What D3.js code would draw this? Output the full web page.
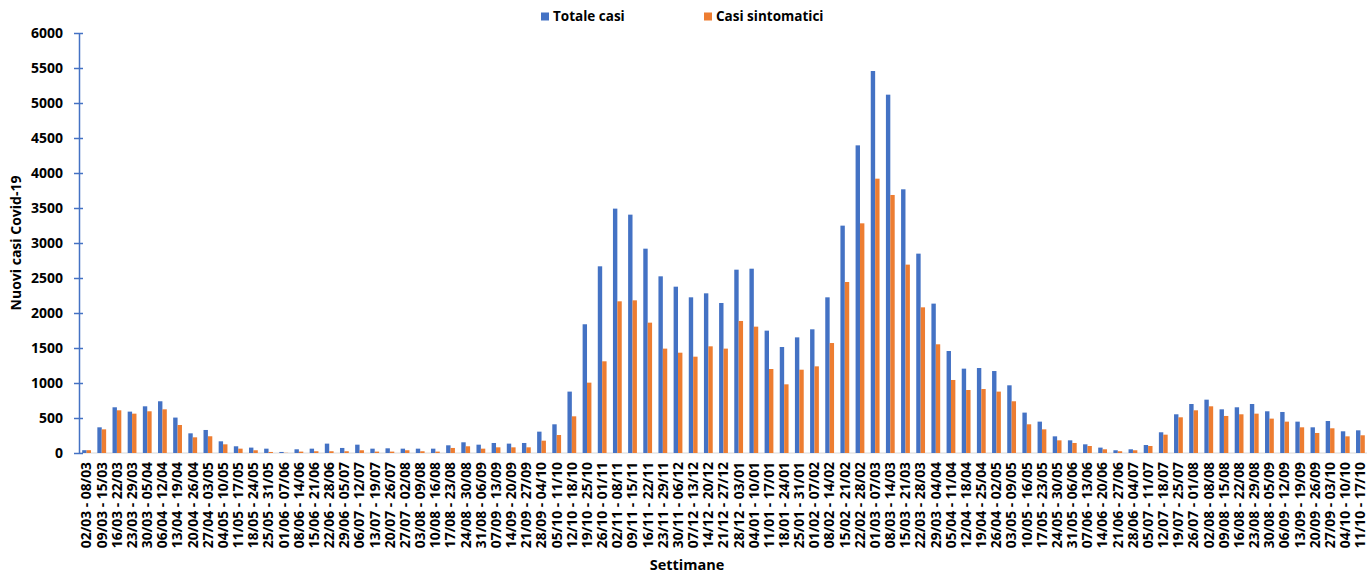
<!DOCTYPE html>
<html>
<head>
<meta charset="utf-8">
<script src="https://cdn.jsdelivr.net/npm/d3@7"></script>
<style>
html,body{margin:0;padding:0;background:#fff;}
svg{display:block;font-family:"Open Sans",sans-serif;}
</style>
</head>
<body>
<svg id="chart" width="1368" height="575"></svg>
<script>
const weeks = ["02/03 - 08/03","09/03 - 15/03","16/03 - 22/03","23/03 - 29/03","30/03 - 05/04","06/04 - 12/04","13/04 - 19/04","20/04 - 26/04","27/04 - 03/05","04/05 - 10/05",
"11/05 - 17/05","18/05 - 24/05","25/05 - 31/05","01/06 - 07/06","08/06 - 14/06","15/06 - 21/06","22/06 - 28/06","29/06 - 05/07","06/07 - 12/07","13/07 - 19/07",
"20/07 - 26/07","27/07 - 02/08","03/08 - 09/08","10/08 - 16/08","17/08 - 23/08","24/08 - 30/08","31/08 - 06/09","07/09 - 13/09","14/09 - 20/09","21/09 - 27/09",
"28/09 - 04/10","05/10 - 11/10","12/10 - 18/10","19/10 - 25/10","26/10 - 01/11","02/11 - 08/11","09/11 - 15/11","16/11 - 22/11","23/11 - 29/11","30/11 - 06/12",
"07/12 - 13/12","14/12 - 20/12","21/12 - 27/12","28/12 - 03/01","04/01 - 10/01","11/01 - 17/01","18/01 - 24/01","25/01 - 31/01","01/02 - 07/02","08/02 - 14/02",
"15/02 - 21/02","22/02 - 28/02","01/03 - 07/03","08/03 - 14/03","15/03 - 21/03","22/03 - 28/03","29/03 - 04/04","05/04 - 11/04","12/04 - 18/04","19/04 - 25/04",
"26/04 - 02/05","03/05 - 09/05","10/05 - 16/05","17/05 - 23/05","24/05 - 30/05","31/05 - 06/06","07/06 - 13/06","14/06 - 20/06","21/06 - 27/06","28/06 - 04/07",
"05/07 - 11/07","12/07 - 18/07","19/07 - 25/07","26/07 - 01/08","02/08 - 08/08","09/08 - 15/08","16/08 - 22/08","23/08 - 29/08","30/08 - 05/09","06/09 - 12/09",
"13/09 - 19/09","20/09 - 26/09","27/09 - 03/10","04/10 - 10/10","11/10 - 17/10"];

const totaleCasi = [40,367,653,591,667,739,506,281,329,167,
96,77,62,15,53,62,134,72,119,62,
67,62,62,62,110,153,119,143,134,143,
305,410,877,1839,2667,3491,3405,2919,2524,2376,
2224,2281,2143,2619,2633,1748,1514,1652,1767,2224,
3248,4395,5457,5119,3767,2848,2134,1457,1205,1214,
1171,967,577,448,238,181,124,77,39,53,
114,296,553,700,762,624,653,700,596,586,
448,367,457,310,324];

const casiSintomatici = [40,338,610,562,596,624,400,224,239,124,
62,39,15,3,20,25,25,25,39,20,
20,39,25,20,72,96,62,81,81,81,
176,257,524,1005,1310,2167,2181,1862,1491,1433,
1376,1524,1491,1886,1805,1200,981,1190,1238,1571,
2443,3281,3919,3686,2691,2081,1553,1043,900,914,
877,739,410,338,181,143,100,53,25,39,
100,262,510,610,667,529,553,562,491,448,
367,286,353,238,253];

const yTicks = [0,500,1000,1500,2000,2500,3000,3500,4000,4500,5000,5500,6000];
const seriesNames = ["Totale casi","Casi sintomatici"];
const seriesColors = ["#4472C4","#ED7D31"];

(function(){
const svg = d3.select("#chart");
const mLeft = 79, mRight = 1368, mTop = 33, mBottom = 453;

const x = d3.scaleBand().domain(weeks).range([mLeft, mRight]).paddingInner(0.42).paddingOuter(0.21);
const xs = d3.scaleBand().domain(seriesNames).range([0, x.bandwidth()]);
const y = d3.scaleLinear().domain([0, 6000]).range([mBottom, mTop]);

const data = weeks.map((w, i) => ({week: w, values: [totaleCasi[i], casiSintomatici[i]]}));

// x axis baseline
svg.append("line").attr("x1", mLeft).attr("x2", mRight - 1).attr("y1", y(0)).attr("y2", y(0))
  .attr("stroke", "#D9D9D9").attr("stroke-width", 1.2);

// bars
const g = svg.append("g");
g.selectAll("g.wk").data(data).join("g").attr("class","wk")
  .attr("transform", d => `translate(${x(d.week)},0)`)
  .selectAll("rect").data(d => d.values.map((v, k) => ({v, k})))
  .join("rect")
  .attr("x", d => xs(seriesNames[d.k]))
  .attr("width", xs.bandwidth())
  .attr("y", d => y(d.v))
  .attr("height", d => y(0) - y(d.v))
  .attr("fill", d => seriesColors[d.k]);

// y axis
const yAxis = d3.axisLeft(y).tickValues(yTicks).tickFormat(d3.format("d")).tickSize(0).tickPadding(16);
const ya = svg.append("g").attr("transform", `translate(${mLeft},0)`).call(yAxis);
ya.select(".domain").attr("stroke", "#4472C4").attr("stroke-width", 1.5);
ya.selectAll(".tick line").remove();
ya.selectAll(".tick").append("line").attr("x1", -5).attr("x2", 4).attr("stroke", "#4472C4").attr("stroke-width", 1.5);
ya.selectAll(".tick text").attr("font-family", "'Open Sans',sans-serif").attr("font-size", "14px")
  .attr("font-weight", "700").attr("fill", "#000");

// x axis labels
const xAxis = d3.axisBottom(x).tickSize(0).tickPadding(0);
const xa = svg.append("g").attr("transform", `translate(0,${mBottom})`).call(xAxis);
xa.select(".domain").remove();
xa.selectAll(".tick text")
  .attr("font-family", "'Open Sans',sans-serif").attr("font-size", "13.8px").attr("font-weight", "700").attr("fill", "#000")
  .attr("transform", "rotate(-90)")
  .attr("text-anchor", "end").attr("dy", "0.35em").attr("x", -9).attr("y", 0);

// axis titles
svg.append("text").attr("transform", "translate(21,243) rotate(-90)").attr("text-anchor", "middle")
  .attr("font-size", "14px").attr("font-weight", "700").attr("fill", "#000").text("Nuovi casi Covid-19");
svg.append("text").attr("x", 687).attr("y", 570).attr("text-anchor", "middle")
  .attr("font-size", "14.5px").attr("font-weight", "700").attr("fill", "#000").text("Settimane");

// legend
const legendX = [541, 704];
const lg = svg.append("g");
seriesNames.forEach((n, k) => {
  lg.append("rect").attr("x", legendX[k]).attr("y", 12.5).attr("width", 8).attr("height", 8).attr("fill", seriesColors[k]);
  lg.append("text").attr("x", legendX[k] + 12).attr("y", 21).attr("font-size", "13.5px").attr("font-weight", "700")
    .attr("fill", "#000").text(n);
});
})();
</script>
</body>
</html>
